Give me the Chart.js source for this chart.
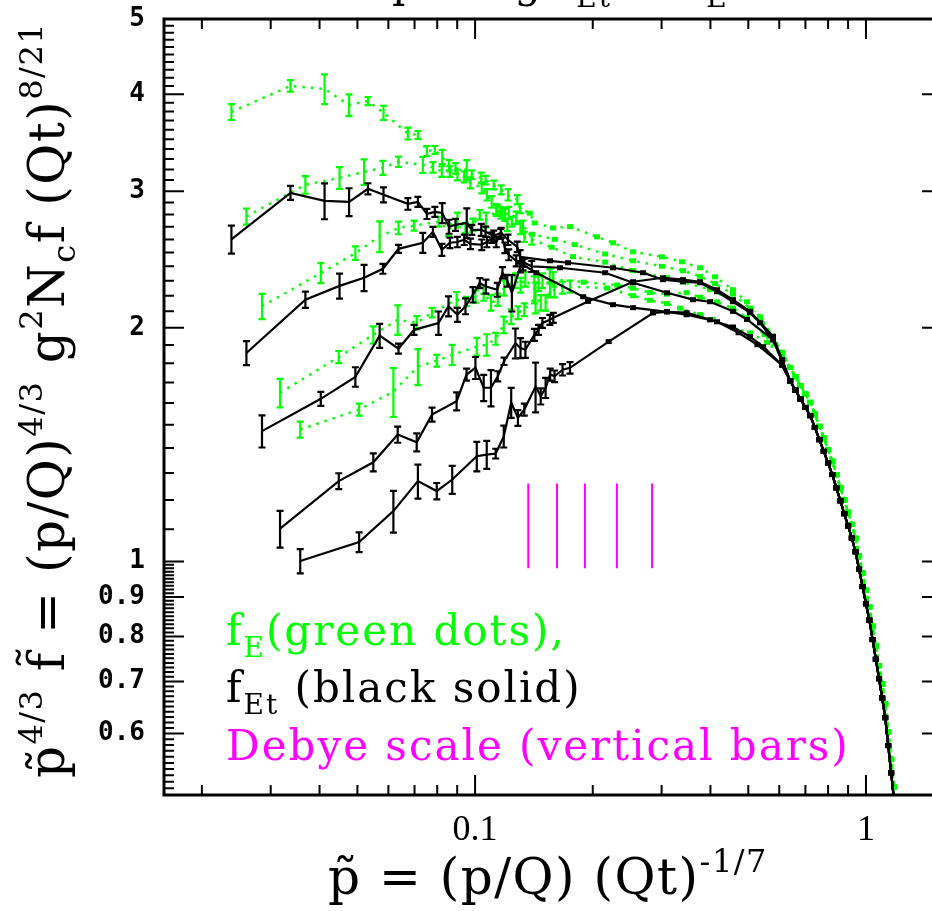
<!DOCTYPE html>
<html>
<head>
<meta charset="utf-8">
<script src="https://cdn.jsdelivr.net/npm/chart.js@4.4.1/dist/chart.umd.min.js"></script>
<style>
  html, body { margin: 0; padding: 0; background: #fff; overflow: hidden; }
  #wrap { position: absolute; left: 0; top: 0; width: 950px; height: 911px; }
</style>
</head>
<body>
<div id="wrap"><canvas id="fChart" width="950" height="911"></canvas></div>
<script>
// values (log-log axes)
// run 1
const x1 = [0.0238, 0.0337, 0.0412, 0.0476, 0.0532, 0.0583, 0.0673, 0.0714, 0.0753, 0.0789, 0.0824, 0.0858, 0.0891, 0.0952, 0.0981, 0.1037, 0.1064, 0.1116, 0.1166, 0.1214, 0.1282, 0.1304];
const fEt1 = [2.60, 2.985, 2.915, 2.906, 3.021, 2.968, 2.889, 2.906, 2.804, 2.821, 2.812, 2.70, 2.715, 2.731, 2.675, 2.675, 2.66, 2.628, 2.651, 2.597, 2.543, 2.469];
const fEt1Err = [0.108, 0.062, 0.155, 0.12, 0.05, 0.066, 0.05, 0.043, 0.042, 0.042, 0.083, 0.056, 0.048, 0.12, 0.04, 0.048, 0.04, 0.04, 0.04, 0.04, 0.04, 0.05];
const fE1 = [3.795, 4.10, 4.063, 3.874, 3.92, 3.785, 3.56, 3.544, 3.38, 3.39, 3.32, 3.24, 3.21, 3.195, 3.15, 3.12, 3.10, 3.055, 3.012, 2.968, 2.924, 2.85];
const fE1Err = [0.09, 0.07, 0.18, 0.125, 0.047, 0.08, 0.063, 0.042, 0.05, 0.04, 0.07, 0.05, 0.05, 0.095, 0.04, 0.05, 0.04, 0.04, 0.04, 0.05, 0.04, 0.04];
const fEt1MidX = [0.1555, 0.1729, 0.2254, 0.2690, 0.3026, 0.3404, 0.3762, 0.4159, 0.4568, 0.5049, 0.5357, 0.5783, 0.61];
const fEt1Mid = [2.44, 2.426, 2.39, 2.355, 2.307, 2.293, 2.286, 2.226, 2.161, 2.092, 2.03, 1.93, 1.81];
const fE1MidX = [0.1380, 0.1420, 0.1583, 0.175, 0.2051, 0.2254, 0.2536, 0.3008, 0.3385, 0.3762, 0.4111, 0.4568, 0.4962, 0.5357, 0.5783, 0.61];
const fE1Mid = [2.81, 2.73, 2.69, 2.70, 2.62, 2.574, 2.506, 2.469, 2.433, 2.39, 2.327, 2.239, 2.161, 2.067, 1.95, 1.86];

// run 2
const x2 = [0.026, 0.0368, 0.0450, 0.052, 0.0581, 0.0637, 0.0735, 0.078, 0.0822, 0.0862, 0.0901, 0.0938, 0.0973, 0.104, 0.1072, 0.1103, 0.1133, 0.1163, 0.1192, 0.1219, 0.1274, 0.1326];
const fEt2 = [1.856, 2.174, 2.265, 2.320, 2.383, 2.528, 2.574, 2.659, 2.521, 2.574, 2.58, 2.597, 2.566, 2.559, 2.58, 2.613, 2.58, 2.643, 2.536, 2.484, 2.44, 2.411];
const fEt2Err = [0.066, 0.052, 0.084, 0.09, 0.035, 0.03, 0.076, 0.04, 0.045, 0.04, 0.04, 0.04, 0.04, 0.04, 0.04, 0.04, 0.04, 0.04, 0.04, 0.04, 0.04, 0.04];
const fE2 = [2.783, 3.057, 3.121, 3.176, 3.215, 3.273, 3.244, 3.22, 3.18, 3.18, 3.148, 3.13, 3.075, 3.03, 2.968, 2.906, 2.838, 2.814, 2.797, 2.814, 2.773, 2.70];
const fE2Err = [0.066, 0.08, 0.10, 0.12, 0.067, 0.05, 0.077, 0.05, 0.05, 0.05, 0.05, 0.05, 0.05, 0.05, 0.05, 0.05, 0.05, 0.05, 0.05, 0.05, 0.05, 0.05];
const fEt2MidX = [0.1434, 0.189, 0.2254, 0.2536, 0.3097, 0.3476, 0.399, 0.4568, 0.5049, 0.5457, 0.61];
const fEt2Mid = [2.355, 2.193, 2.142, 2.123, 2.097, 2.079, 2.048, 2.005, 1.948, 1.891, 1.79];
const fE2MidX = [0.140, 0.16, 0.18, 0.2152, 0.2536, 0.3008, 0.3404, 0.3762, 0.4111, 0.4568, 0.5049, 0.5357, 0.5783, 0.61];
const fE2Mid = [2.64, 2.60, 2.56, 2.49, 2.44, 2.40, 2.37, 2.33, 2.28, 2.21, 2.12, 2.06, 1.95, 1.85];

// run 3
const x3 = [0.0285, 0.0403, 0.0494, 0.057, 0.0637, 0.0698, 0.0806, 0.0855, 0.0901, 0.0945, 0.0987, 0.1028, 0.1066, 0.114, 0.1175, 0.1209, 0.1242, 0.1306, 0.1337, 0.1396];
const fEt3 = [1.472, 1.620, 1.729, 1.954, 1.880, 1.988, 2.029, 2.132, 2.079, 2.132, 2.206, 2.284, 2.261, 2.239, 2.355, 2.30, 2.219, 2.398, 2.426, 2.40];
const fEt3Err = [0.07, 0.034, 0.05, 0.07, 0.028, 0.03, 0.07, 0.063, 0.043, 0.05, 0.05, 0.034, 0.047, 0.046, 0.04, 0.04, 0.12, 0.04, 0.03, 0.04];
const fE3 = [2.132, 2.353, 2.496, 2.623, 2.69, 2.708, 2.74, 2.675, 2.755, 2.69, 2.715, 2.797, 2.755, 2.838, 2.814, 2.715, 2.74, 2.69, 2.62, 2.60];
const fE3Err = [0.08, 0.07, 0.05, 0.12, 0.05, 0.04, 0.04, 0.05, 0.06, 0.04, 0.05, 0.04, 0.06, 0.04, 0.04, 0.05, 0.04, 0.05, 0.04, 0.04];
const fEt3MidX = [0.1650, 0.2152, 0.2536, 0.3097, 0.3609, 0.399, 0.4568, 0.4962, 0.5783, 0.61];
const fEt3Mid = [2.39, 2.355, 2.286, 2.219, 2.174, 2.161, 2.10, 2.05, 1.93, 1.82];
const fE3MidX = [0.157, 0.178, 0.2152, 0.2536, 0.3097, 0.3404, 0.399, 0.4568, 0.5049, 0.5357, 0.5783, 0.61];
const fE3Mid = [2.54, 2.47, 2.43, 2.37, 2.32, 2.29, 2.24, 2.17, 2.09, 2.03, 1.95, 1.85];

// run 4
const x4 = [0.0317, 0.0448, 0.0549, 0.0634, 0.0709, 0.0776, 0.0897, 0.0951, 0.1002, 0.1052, 0.1098, 0.1143, 0.1186, 0.1268, 0.1307, 0.1345, 0.1418, 0.1453, 0.1487, 0.1553, 0.1585];
const fEt4 = [1.102, 1.269, 1.342, 1.457, 1.424, 1.546, 1.608, 1.741, 1.776, 1.674, 1.674, 1.732, 1.811, 1.911, 1.884, 1.874, 1.959, 1.988, 2.029, 2.048, 2.06];
const fEt4Err = [0.06, 0.03, 0.036, 0.035, 0.038, 0.032, 0.043, 0.031, 0.058, 0.065, 0.09, 0.026, 0.02, 0.085, 0.056, 0.045, 0.035, 0.03, 0.03, 0.03, 0.03];
const fE4 = [1.649, 1.834, 1.959, 2.048, 2.03, 2.092, 2.174, 2.163, 2.195, 2.217, 2.154, 2.174, 2.25, 2.30, 2.27, 2.31, 2.24, 2.28, 2.30, 2.33, 2.31];
const fE4Err = [0.07, 0.033, 0.05, 0.09, 0.04, 0.03, 0.05, 0.03, 0.04, 0.05, 0.05, 0.04, 0.05, 0.05, 0.05, 0.05, 0.09, 0.05, 0.05, 0.05, 0.05];
const fEt4MidX = [0.1945, 0.2536, 0.3026, 0.3404, 0.3762, 0.4159, 0.4568, 0.5049, 0.5783, 0.61];
const fEt4Mid = [2.163, 2.293, 2.32, 2.307, 2.293, 2.239, 2.174, 2.10, 1.95, 1.82];
const fE4MidX = [0.1895, 0.2309, 0.2536, 0.28, 0.3097, 0.3476, 0.3762, 0.4159, 0.4568, 0.4962, 0.55, 0.61];
const fE4Mid = [2.29, 2.27, 2.25, 2.22, 2.21, 2.22, 2.19, 2.16, 2.12, 2.06, 1.96, 1.84];

// run 5
const x5 = [0.0357, 0.0505, 0.0618, 0.0714, 0.0798, 0.0874, 0.101, 0.1071, 0.1129, 0.1184, 0.1237, 0.1287, 0.1336, 0.1428, 0.1472, 0.1515, 0.1556, 0.1597, 0.1674, 0.1749];
const fEt5 = [1.001, 1.059, 1.161, 1.269, 1.232, 1.275, 1.366, 1.373, 1.377, 1.449, 1.602, 1.531, 1.569, 1.680, 1.632, 1.674, 1.741, 1.732, 1.766, 1.776];
const fEt5Err = [0.036, 0.031, 0.072, 0.064, 0.03, 0.053, 0.06, 0.057, 0.02, 0.047, 0.071, 0.036, 0.028, 0.124, 0.039, 0.05, 0.031, 0.03, 0.03, 0.03];
const fE5 = [1.479, 1.569, 1.655, 1.782, 1.814, 1.846, 1.891, 1.902, 1.936, 2.018, 2.067, 2.092, 2.11, 2.187, 2.154, 2.154, 2.239, 2.239, 2.253, 2.26];
const fE5Err = [0.035, 0.028, 0.12, 0.095, 0.032, 0.055, 0.05, 0.06, 0.034, 0.05, 0.045, 0.04, 0.04, 0.1, 0.05, 0.05, 0.05, 0.05, 0.04, 0.04];
const fEt5MidX = [0.2197, 0.2851, 0.3097, 0.3476, 0.4159, 0.4721, 0.5274, 0.61];
const fEt5Mid = [1.920, 2.09, 2.097, 2.092, 2.036, 1.971, 1.902, 1.79];
const fE5MidX = [0.2178, 0.2536, 0.28, 0.3097, 0.3348, 0.3762, 0.4058, 0.4568, 0.5049, 0.5587, 0.61];
const fE5Mid = [2.25, 2.20, 2.17, 2.15, 2.12, 2.08, 2.05, 2.0, 1.97, 1.915, 1.84];

// common fall-off above p~0.6 (all runs lie on top of each other)
const tailX = [0.64, 0.66, 0.68, 0.70, 0.72, 0.74, 0.76, 0.78, 0.80, 0.82, 0.84, 0.86, 0.88, 0.90, 0.92, 0.94, 0.96, 0.98, 1.00, 1.02, 1.04, 1.06, 1.08, 1.10, 1.12, 1.14, 1.16, 1.18];
const tailEt = [1.708, 1.662, 1.619, 1.579, 1.541, 1.488, 1.435, 1.386, 1.339, 1.294, 1.244, 1.197, 1.152, 1.111, 1.072, 1.029, 0.977, 0.928, 0.882, 0.840, 0.793, 0.748, 0.706, 0.667, 0.629, 0.579, 0.534, 0.492];
const tailE = [1.778, 1.730, 1.685, 1.643, 1.603, 1.548, 1.493, 1.442, 1.393, 1.346, 1.294, 1.245, 1.200, 1.157, 1.116, 1.071, 1.017, 0.966, 0.918, 0.874, 0.825, 0.778, 0.734, 0.695, 0.655, 0.603, 0.556, 0.512];

// Debye scale markers
const debyeX = [0.1368, 0.162, 0.191, 0.2306, 0.2837];
const debyeY = [0.98, 1.26];

const xTicks = [0.1, 1];
const yTicks = [0.6, 0.7, 0.8, 0.9, 1, 2, 3, 4, 5];

const GREEN = '#00ff00';
const MAGENTA = '#ff00ff';
const SERIF = '"DejaVu Serif", serif';

function pts(xs, ys) {
  return xs.map((x, i) => ({ x: x, y: ys[i] }));
}

function run(xLow, yLow, errLow, xMid, yMid, yTail, green) {
  return {
    data: pts(xLow, yLow).concat(pts(xMid, yMid), pts(tailX, yTail)),
    errs: errLow,
    green: green,
    showLine: true,
    borderColor: green ? GREEN : '#000',
    borderWidth: green ? 2.5 : 2.2,
    borderDash: green ? [2.5, 6] : [],
    pointRadius: 0,
    pointHoverRadius: 0,
    tension: 0
  };
}

const debyeData = [];
debyeX.forEach(x => {
  debyeData.push({ x: x, y: debyeY[0] }, { x: x, y: debyeY[1] }, { x: x, y: null });
});

// rich text helpers (super/subscripts)
function richWidth(ctx, parts, st) {
  let w = 0;
  for (const [t, k] of parts) {
    ctx.font = (k ? st.small : st.size) + 'px ' + st.family;
    w += ctx.measureText(t).width;
  }
  return w;
}
function drawRich(ctx, parts, x, y, st) {
  let cx = x;
  for (const [t, k] of parts) {
    ctx.font = (k ? st.small : st.size) + 'px ' + st.family;
    const dy = k === 1 ? -st.up : (k === 2 ? st.down : 0);
    ctx.fillText(t, cx, y + dy);
    cx += ctx.measureText(t).width;
  }
  return cx;
}

const decor = {
  id: 'decor',
  afterDatasetDraw(chart, args) {
    const ds = chart.data.datasets[args.index];
    if (!ds.errs) return;
    const ctx = chart.ctx;
    const xs = chart.scales.x, ys = chart.scales.y;
    const a = chart.chartArea;
    ctx.save();
    ctx.beginPath();
    ctx.rect(a.left, a.top, a.right - a.left, a.bottom - a.top);
    ctx.clip();
    ctx.strokeStyle = ds.green ? GREEN : '#000';
    ctx.fillStyle = ds.green ? GREEN : '#000';
    ctx.lineWidth = 2.2;
    ds.data.forEach((p, i) => {
      const px = xs.getPixelForValue(p.x);
      const py = ys.getPixelForValue(p.y);
      if (i < ds.errs.length) {
        const t = ys.getPixelForValue(p.y + ds.errs[i]);
        const b = ys.getPixelForValue(p.y - ds.errs[i]);
        ctx.beginPath();
        ctx.moveTo(px, t); ctx.lineTo(px, b);
        ctx.moveTo(px - 3.5, t); ctx.lineTo(px + 3.5, t);
        ctx.moveTo(px - 3.5, b); ctx.lineTo(px + 3.5, b);
        ctx.stroke();
      } else {
        ctx.fillRect(px - 3, py - 2.5, 6, 5);
      }
    });
    ctx.restore();
  },
  afterDraw(chart) {
    const ctx = chart.ctx;
    const a = chart.chartArea;
    const xs = chart.scales.x, ys = chart.scales.y;
    ctx.save();
    // frame
    ctx.strokeStyle = '#000';
    ctx.lineWidth = 3;
    ctx.strokeRect(a.left, a.top, a.right - a.left, a.bottom - a.top);
    // inward tick marks
    ctx.lineWidth = 2;
    ctx.beginPath();
    for (let d = 0.01; d < 2; d *= 10) {
      for (let m = 1; m <= 9; m++) {
        const v = m * d;
        if (v < 0.016 || v > 1.565) continue;
        const px = xs.getPixelForValue(v);
        const len = m === 1 ? 20 : 10;
        ctx.moveTo(px, a.bottom); ctx.lineTo(px, a.bottom - len);
        ctx.moveTo(px, a.top); ctx.lineTo(px, a.top + len);
      }
    }
    for (let k = 51; k < 100; k++) {
      const py = ys.getPixelForValue(k / 100);
      const len = k % 10 === 0 ? 20 : 10;
      ctx.moveTo(a.left, py); ctx.lineTo(a.left + len, py);
      ctx.moveTo(a.right, py); ctx.lineTo(a.right - len, py);
    }
    for (let k = 10; k < 50; k++) {
      const py = ys.getPixelForValue(k / 10);
      const len = k % 10 === 0 ? 20 : 10;
      ctx.moveTo(a.left, py); ctx.lineTo(a.left + len, py);
      ctx.moveTo(a.right, py); ctx.lineTo(a.right - len, py);
    }
    ctx.stroke();

    ctx.textAlign = 'left';
    ctx.textBaseline = 'alphabetic';
    ctx.letterSpacing = '1.5px';

    // x axis title
    ctx.fillStyle = '#000';
    const xt = { family: SERIF, size: 50, small: 32, up: 22, down: 11 };
    const xParts = [['p\u0303 = (p/Q) (Qt)', 0], ['-1/7', 1]];
    drawRich(ctx, xParts, 548 - richWidth(ctx, xParts, xt) / 2, 894, xt);

    // y axis title (rotated)
    const yParts = [['p\u0303', 0], ['4/3', 1], [' f\u0303 = (p/Q)', 0], ['4/3', 1], [' g', 0], ['2', 1], ['N', 0], ['c', 2], ['f (Qt)', 0], ['8/21', 1]];
    ctx.save();
    ctx.translate(64, 400);
    ctx.rotate(-Math.PI / 2);
    drawRich(ctx, yParts, -richWidth(ctx, yParts, xt) / 2, 0, xt);
    ctx.restore();

    // plot title, mostly cut off at the top edge
    ctx.letterSpacing = '2px';
    const tt = { family: SERIF, size: 42, small: 28, up: 18, down: 10 };
    ctx.font = '42px ' + SERIF;
    const lead = ctx.measureText('Com').width;
    drawRich(ctx, [['Comparing f', 0], ['Et', 2], [' to f', 0], ['E', 2]], 392 - lead, -3, tt);

    // legend text
    const lt = { family: SERIF, size: 42, small: 28, up: 18, down: 12 };
    ctx.fillStyle = GREEN;
    drawRich(ctx, [['f', 0], ['E', 2], ['(green dots),', 0]], 226, 645, lt);
    ctx.fillStyle = '#000';
    drawRich(ctx, [['f', 0], ['Et', 2], [' (black solid)', 0]], 226, 702, lt);
    ctx.fillStyle = MAGENTA;
    drawRich(ctx, [['Debye scale (vertical bars)', 0]], 226, 760, lt);
    ctx.restore();
  }
};

new Chart(document.getElementById('fChart'), {
  type: 'scatter',
  data: {
    datasets: [
      run(x1, fEt1, fEt1Err, fEt1MidX, fEt1Mid, tailEt, false),
      run(x2, fEt2, fEt2Err, fEt2MidX, fEt2Mid, tailEt, false),
      run(x3, fEt3, fEt3Err, fEt3MidX, fEt3Mid, tailEt, false),
      run(x4, fEt4, fEt4Err, fEt4MidX, fEt4Mid, tailEt, false),
      run(x5, fEt5, fEt5Err, fEt5MidX, fEt5Mid, tailEt, false),
      run(x1, fE1, fE1Err, fE1MidX, fE1Mid, tailE, true),
      run(x2, fE2, fE2Err, fE2MidX, fE2Mid, tailE, true),
      run(x3, fE3, fE3Err, fE3MidX, fE3Mid, tailE, true),
      run(x4, fE4, fE4Err, fE4MidX, fE4Mid, tailE, true),
      run(x5, fE5, fE5Err, fE5MidX, fE5Mid, tailE, true),
      {
        data: debyeData,
        showLine: true,
        spanGaps: false,
        borderColor: MAGENTA,
        borderWidth: 2,
        pointRadius: 0,
        pointHoverRadius: 0
      }
    ]
  },
  options: {
    responsive: false,
    animation: false,
    devicePixelRatio: 1,
    layout: { padding: { top: 19, right: 8, left: 0, bottom: 0 } },
    plugins: {
      legend: { display: false },
      tooltip: { enabled: false },
      title: { display: false }
    },
    scales: {
      x: {
        type: 'logarithmic',
        min: 0.016,
        max: 1.565,
        grid: { display: false, drawTicks: false },
        border: { display: false },
        afterBuildTicks: s => { s.ticks = xTicks.map(v => ({ value: v })); },
        afterFit: s => { s.height = 116; s.paddingLeft = 0; s.paddingRight = 0; },
        ticks: {
          autoSkip: false,
          maxRotation: 0,
          padding: 14,
          color: '#000',
          font: { family: '"Liberation Serif", serif', size: 36 },
          callback: v => String(v)
        }
      },
      y: {
        type: 'logarithmic',
        min: 0.5,
        max: 5,
        grid: { display: false, drawTicks: false },
        border: { display: false },
        afterBuildTicks: s => { s.ticks = yTicks.map(v => ({ value: v })); },
        afterFit: s => { s.width = 164; s.paddingTop = 0; s.paddingBottom = 0; },
        ticks: {
          autoSkip: false,
          padding: 19,
          color: '#000',
          font: { family: '"DejaVu Sans Mono", monospace', size: 26, weight: 'bold', lineHeight: 1 },
          callback: v => String(v)
        }
      }
    }
  },
  plugins: [decor]
});
</script>
</body>
</html>
